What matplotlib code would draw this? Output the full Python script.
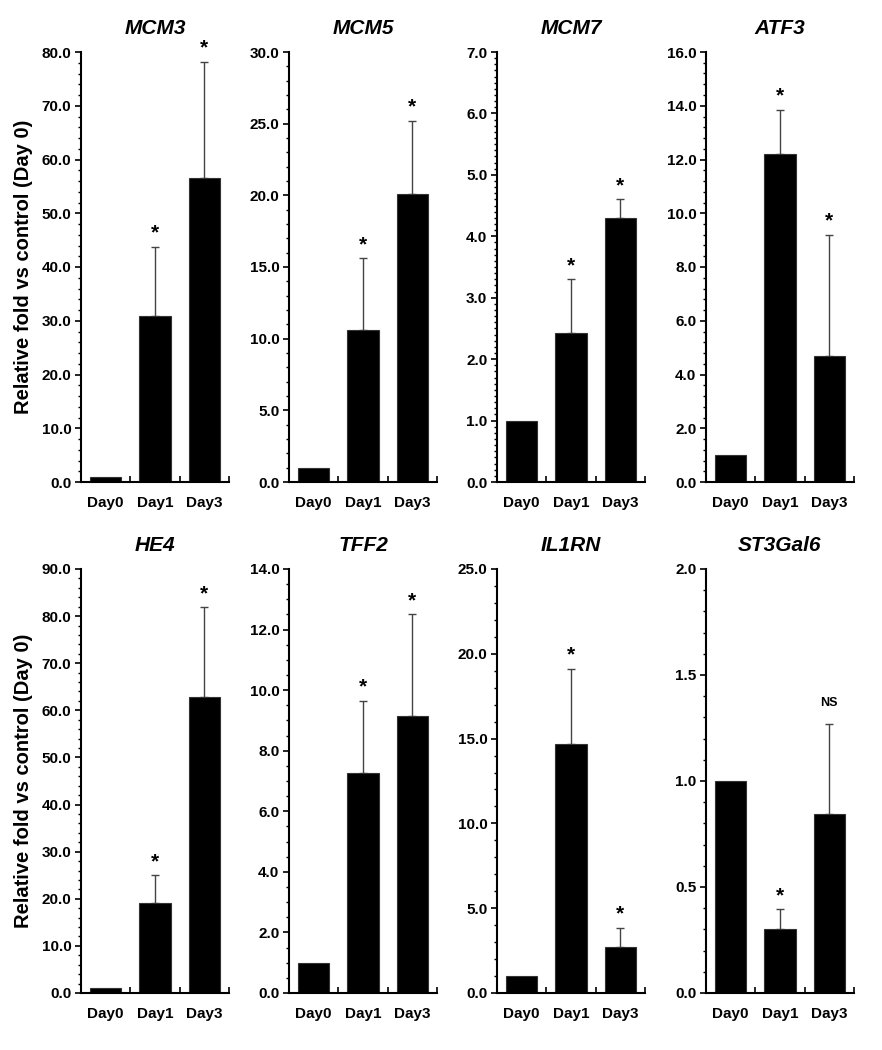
import numpy as np
import matplotlib
matplotlib.use('Agg')
import matplotlib.pyplot as plt
from matplotlib.ticker import MultipleLocator, FormatStrFormatter

plt.rcParams['font.family'] = ['Liberation Sans', 'DejaVu Sans']
plt.rcParams['font.weight'] = 'bold'

days = ['Day0', 'Day1', 'Day3']
genes = ['MCM3', 'MCM5', 'MCM7', 'ATF3', 'HE4', 'TFF2', 'IL1RN', 'ST3Gal6']

mcm3 = [1.0, 30.8, 56.5]
mcm3_err = [0, 12.9, 21.7]
mcm5 = [1.0, 10.6, 20.1]
mcm5_err = [0, 5.0, 5.1]
mcm7 = [1.0, 2.42, 4.3]
mcm7_err = [0, 0.88, 0.3]
atf3 = [1.0, 12.2, 4.7]
atf3_err = [0, 1.65, 4.5]
he4 = [1.0, 19.0, 62.8]
he4_err = [0, 6.0, 19.1]
tff2 = [1.0, 7.25, 9.15]
tff2_err = [0, 2.4, 3.35]
il1rn = [1.0, 14.7, 2.7]
il1rn_err = [0, 4.4, 1.15]
st3gal6 = [1.0, 0.30, 0.845]
st3gal6_err = [0, 0.095, 0.425]

values = [mcm3, mcm5, mcm7, atf3, he4, tff2, il1rn, st3gal6]
errors = [mcm3_err, mcm5_err, mcm7_err, atf3_err, he4_err, tff2_err, il1rn_err, st3gal6_err]
signif = [['', '*', '*']] * 7 + [['', '*', 'NS']]

ymax = [80, 30, 7, 16, 90, 14, 25, 2.0]
major = [10, 5, 1, 2, 10, 2, 5, 0.5]
minor = [2, 1, 0.1, 0.4, 2, 0.5, 1, 0.1]

fig = plt.figure(figsize=(8.82, 10.5), dpi=100)
W, H = 882, 1050
lefts = [81, 289, 497, 706]
axw = 148
rows = [(52, 482), (569, 993)]

x = np.arange(3)
for i, g in enumerate(genes):
    r, c = divmod(i, 4)
    top, bot = rows[r]
    ax = fig.add_axes([lefts[c] / W, 1 - bot / H, axw / W, (bot - top) / H])
    ax.bar(x, values[i], width=0.63, color='black', edgecolor='#333333', linewidth=0.8, zorder=2)
    ax.errorbar(x[1:], values[i][1:], yerr=[np.zeros(2), errors[i][1:]], fmt='none',
                ecolor='#444444', elinewidth=1.0, capsize=3, capthick=1.0, zorder=1)
    for j in range(1, 3):
        s = signif[i][j]
        yt = values[i][j] + errors[i][j] + ymax[i] * 0.01
        if s == '*':
            ax.text(x[j], yt, s, ha='center', va='bottom', fontsize=15, fontweight='bold')
        else:
            ax.text(x[j], yt + ymax[i] * 0.025, s, ha='center', va='bottom', fontsize=9, fontweight='bold')
    ax.set_xlim(-0.5, 2.5)
    ax.set_ylim(0, ymax[i])
    ax.yaxis.set_major_locator(MultipleLocator(major[i]))
    ax.yaxis.set_minor_locator(MultipleLocator(minor[i]))
    ax.yaxis.set_major_formatter(FormatStrFormatter('%.1f'))
    ax.set_xticks(x)
    ax.set_xticklabels(days)
    ax.set_xticks([0.5, 1.5, 2.5], minor=True)
    ax.tick_params(axis='x', which='major', length=0, pad=10, labelsize=11)
    ax.tick_params(axis='x', which='minor', length=4, direction='in', width=1.2)
    ax.tick_params(axis='y', which='major', length=4, width=1.2, labelsize=11, pad=3)
    ax.tick_params(axis='y', which='minor', length=2.5, width=1.0)
    for lab in ax.get_xticklabels() + ax.get_yticklabels():
        lab.set_fontweight('bold')
    ax.spines['top'].set_visible(False)
    ax.spines['right'].set_visible(False)
    ax.spines['left'].set_linewidth(1.5)
    ax.spines['bottom'].set_linewidth(1.5)
    ax.set_title(g, fontsize=15, fontweight='bold', style='italic', pad=13)
    if c == 0:
        ax.set_ylabel('Relative fold vs control (Day 0)', fontsize=14.5, fontweight='bold', labelpad=6)

fig.savefig('out.png', dpi=100)
